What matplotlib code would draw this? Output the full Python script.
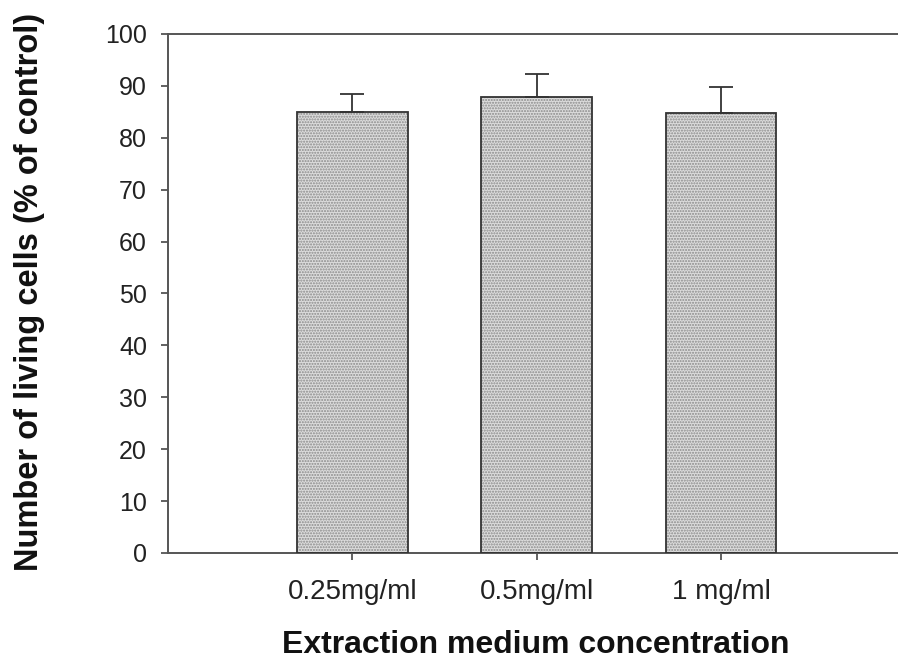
import matplotlib
matplotlib.use("Agg")
import matplotlib.pyplot as plt

categories = ["0.25mg/ml", "0.5mg/ml", "1 mg/ml"]
values = [85.0, 87.8, 84.8]
errors = [3.4, 4.4, 4.9]
yticks = [0, 10, 20, 30, 40, 50, 60, 70, 80, 90, 100]

plt.rcParams['font.family'] = ['Liberation Sans', 'DejaVu Sans']

fig = plt.figure(figsize=(8.98, 6.61), dpi=100)
ax = fig.add_axes([0.187, 0.1634, 0.813, 0.7852])

x = list(range(len(categories)))
ax.bar(x, values, width=0.6, color='#dcdcdc', hatch='......', edgecolor='#8a8a8a', linewidth=0, zorder=2)
ax.bar(x, values, width=0.6, facecolor='none', edgecolor='#333333', linewidth=1.3, zorder=3)
ax.errorbar(x, values, yerr=[[0]*len(values), errors], fmt='none', ecolor='#333333',
            elinewidth=1.3, capsize=8.5, capthick=1.3, zorder=4)

ax.set_xlim(-1, 2.96)
ax.set_ylim(0, 100)
ax.set_yticks(yticks)
ax.set_xticks(x)
ax.set_xticklabels(categories)

for s in ['left', 'bottom', 'top']:
    ax.spines[s].set_color('#555555')
    ax.spines[s].set_linewidth(1.4)
ax.spines['right'].set_visible(False)

ax.tick_params(axis='y', direction='out', length=5, width=1.3, color='#555555',
               labelsize=18, pad=10, labelcolor='#222222')
ax.tick_params(axis='x', direction='out', length=5, width=1.3, color='#555555',
               labelsize=20, pad=14, labelcolor='#222222')

fig.text(0.597, 0.024, "Extraction medium concentration", fontsize=23, fontweight='bold',
         ha='center', va='center', color='#111111')
fig.text(0.0323, 0.559, "Number of living cells (% of control)", fontsize=23.5, fontweight='bold',
         ha='center', va='center', rotation=90, color='#111111')

fig.savefig("out.png", dpi=100)
